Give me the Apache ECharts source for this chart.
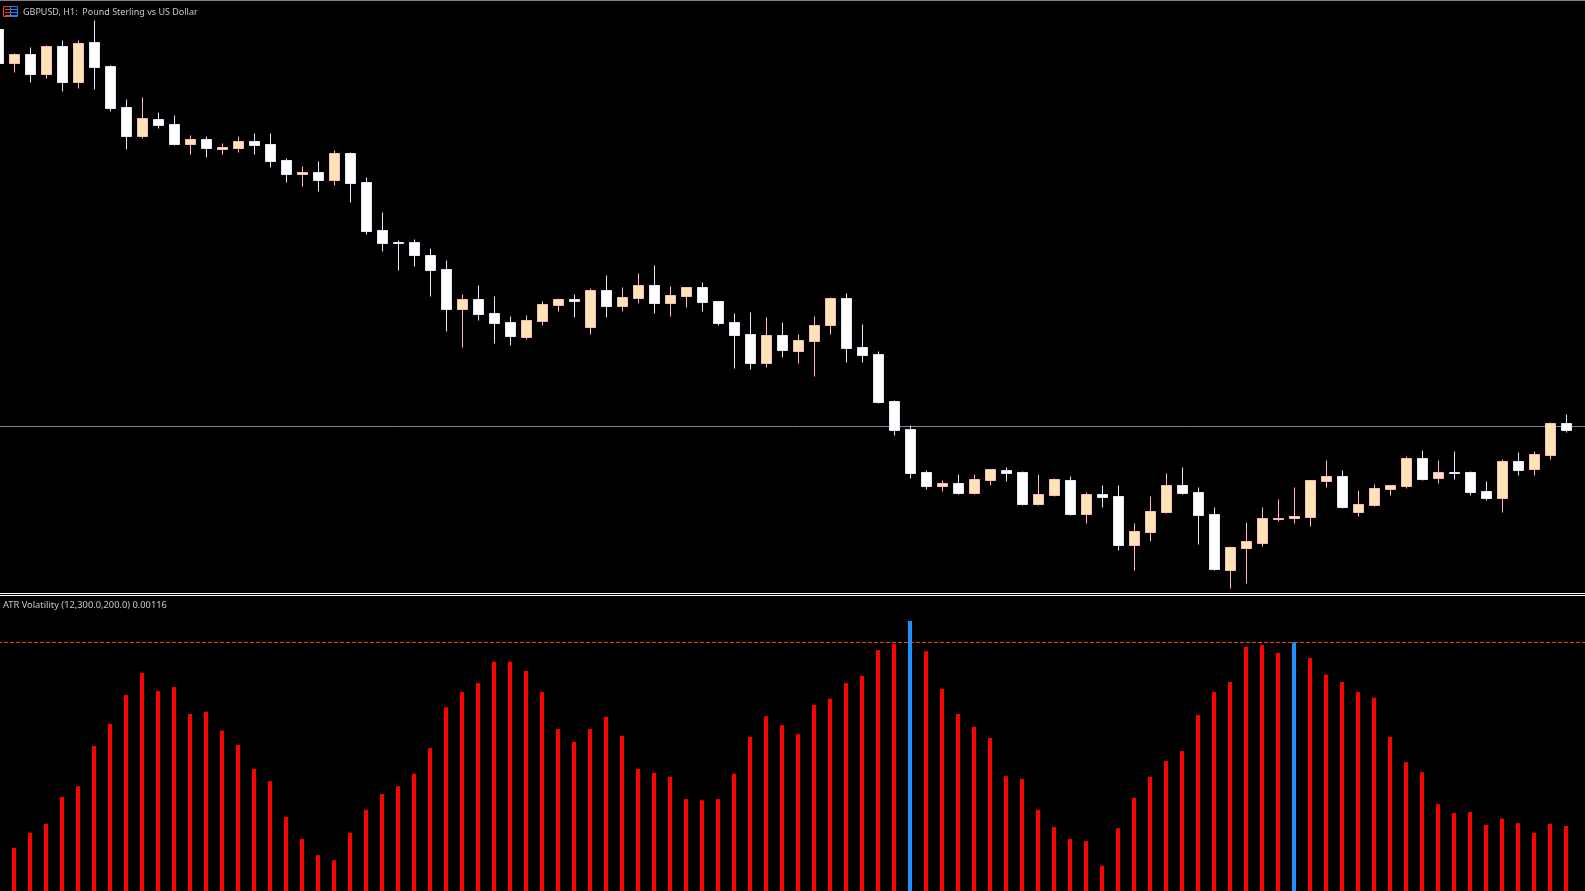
<!DOCTYPE html>
<html><head><meta charset="utf-8">
<style>html,body{margin:0;padding:0;background:#000}#c{width:1585px;height:891px}</style>
<script src="https://cdn.jsdelivr.net/npm/echarts@6/dist/echarts.min.js"></script>
</head><body><div id="c"></div>
<script>
// Price pane, in points on an arbitrary price scale
const opens = [971,937,946,926,954,918,958,934,893,864,881,876,856,861,851,852,859,856,840,826,828,820,847,818,770,758,758,745,731,691,701,687,678,663,679,695,701,673,710,694,702,715,697,704,713,699,678,666,637,665,649,659,675,702,653,646,599,571,528,514,517,507,520,530,528,496,505,520,486,506,504,455,468,488,515,508,486,430,452,457,481,482,483,519,524,488,495,511,514,542,522,528,528,509,502,539,531,545,577];
const closes = [937,946,926,954,918,957,933,892,864,882,875,856,861,852,853,859,855,839,826,828,820,847,817,769,757,757,745,730,691,701,686,677,664,680,696,701,699,710,694,703,715,697,705,713,698,677,665,637,665,650,660,675,702,652,645,598,570,527,514,517,507,521,531,527,496,506,521,486,506,503,455,469,489,515,507,485,431,453,459,482,482,484,520,524,493,496,512,515,542,521,528,527,508,502,539,530,546,577,570];
const lows = [936,928,918,922,909,912,911,889,851,862,872,855,846,843,846,848,846,833,818,814,809,815,798,766,749,730,734,704,669,653,680,657,655,661,675,689,683,666,683,689,697,687,684,693,689,675,632,631,633,643,637,624,666,638,638,597,565,522,511,509,506,506,515,519,495,495,504,485,477,493,450,430,459,487,506,456,430,412,417,454,479,477,474,513,492,484,494,505,512,520,517,521,505,500,488,525,525,541,568];
const highs = [971,947,953,955,960,960,980,935,901,903,888,885,865,864,857,864,867,867,842,834,839,850,848,823,788,760,761,752,740,706,715,704,684,685,699,702,706,712,725,713,727,735,714,713,718,699,687,688,683,678,666,684,703,707,676,649,600,575,530,520,526,526,531,533,529,526,522,524,508,515,515,477,504,527,533,513,493,454,478,493,501,513,520,540,530,510,516,515,544,550,540,549,529,519,541,548,549,578,586];
const bidPrice = 574;
// Indicator pane, ATR histogram in units of 0.00001
const atr = [null,77,104,120,168,187,259,298,350,389,357,364,316,320,286,261,218,196,132,93,64,55,104,145,173,187,209,255,328,355,371,409,409,393,355,289,266,289,311,277,218,211,204,164,162,164,209,275,312,296,280,332,343,371,384,430,441,482,428,361,316,293,273,205,200,145,114,93,89,45,112,166,204,232,250,314,355,373,436,439,425,444,416,386,373,355,345,275,230,212,155,139,141,118,129,121,104,120,116];
const atrThreshold = 444;
const barLabels = Array.from({length: 100}, (_, i) => String(i));
const chartTitle = 'GBPUSD, H1:  Pound Sterling vs US Dollar';
const indicatorTitle = 'ATR Volatility (12,300.0,200.0) 0.00116';

const candles = opens.map((o, i) => [o, closes[i], lows[i], highs[i]]);
const chart = echarts.init(document.getElementById('c'), null, {renderer: 'canvas'});
const FONT = 'Noto Sans';
chart.setOption({
  animation: false,
  backgroundColor: '#000',
  title: [
    {text: chartTitle, left: 23, top: 6, padding: 0, textStyle: {color: '#c8c8c8', fontSize: 9, fontWeight: 'normal', fontFamily: FONT, lineHeight: 12}},
    {text: indicatorTitle, left: 3, top: 599, padding: 0, textStyle: {color: '#c8c8c8', fontSize: 9.3, fontWeight: 'normal', fontFamily: FONT, lineHeight: 12}}
  ],
  grid: [
    {left: -9.5, top: 0.5, width: 1600, height: 593, outerBoundsMode: 'none'},
    {left: -10, top: 585, width: 1600, height: 306, outerBoundsMode: 'none'}
  ],
  xAxis: [0, 1].map(g => ({type: 'category', gridIndex: g, data: barLabels, show: false, boundaryGap: true})),
  yAxis: [
    {type: 'value', gridIndex: 0, min: 407, max: 1000, show: false},
    {type: 'value', gridIndex: 1, min: 0, max: 546.21, show: false}
  ],
  series: [
    {type: 'candlestick', xAxisIndex: 0, yAxisIndex: 0, data: candles, barWidth: 10, z: 3,
     itemStyle: {color: '#FFE4B5', borderColor: '#FFB6C1', color0: '#FFFFFF', borderColor0: '#E6E6FA', borderWidth: 1},
     markLine: {silent: true, symbol: 'none', z: 1, label: {show: false}, animation: false,
       lineStyle: {color: '#778899', type: 'solid', width: 1}, data: [{yAxis: bidPrice}]}},
    {type: 'bar', xAxisIndex: 1, yAxisIndex: 1, data: atr, barWidth: 4, z: 3,
     itemStyle: {color: p => p.value >= atrThreshold ? '#1E90FF' : '#FF0000'},
     markLine: {silent: true, symbol: 'none', z: 1, label: {show: false}, animation: false,
       lineStyle: {color: '#FF4500', type: [4, 2], dashOffset: -2, width: 1}, data: [{yAxis: atrThreshold}]}}
  ],
  graphic: [
    {type: 'rect', shape: {x: 0, y: 593, width: 1585, height: 1}, style: {fill: '#fff'}, silent: true},
    {type: 'rect', shape: {x: 0, y: 595, width: 1585, height: 1}, style: {fill: '#fff'}, silent: true},
    {type: 'rect', shape: {x: 0, y: 0, width: 1585, height: 1}, style: {fill: '#808080'}, silent: true},
    {type: 'rect', shape: {x: 3.5, y: 6.5, width: 7, height: 10}, style: {fill: 'none', stroke: '#F04030'}, silent: true},
    {type: 'rect', shape: {x: 10.5, y: 6.5, width: 7, height: 10}, style: {fill: 'none', stroke: '#2080F0'}, silent: true},
    ...[9, 12, 15].flatMap(y => [
      {type: 'rect', shape: {x: 5, y, width: 5, height: 1}, style: {fill: '#F04030'}, silent: true},
      {type: 'rect', shape: {x: 11, y, width: 6, height: 1}, style: {fill: '#2080F0'}, silent: true}
    ])
  ]
});
</script></body></html>
